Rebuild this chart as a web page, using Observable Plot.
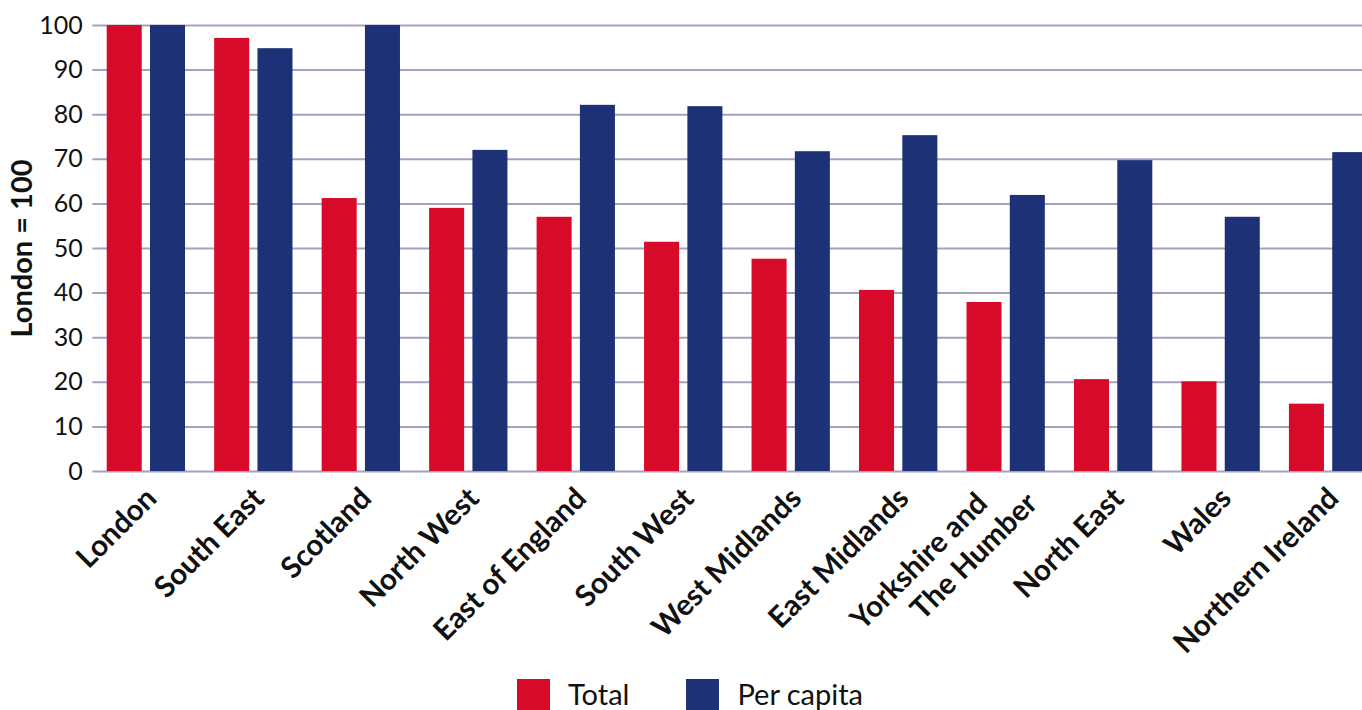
<!DOCTYPE html>
<html>
<head>
<meta charset="utf-8">
<script src="https://cdn.jsdelivr.net/npm/d3@7"></script>
<script src="https://cdn.jsdelivr.net/npm/@observablehq/plot@0.6"></script>
<style>
  html, body { margin: 0; padding: 0; overflow: hidden; background: #fff; }
  #chart svg { display: block; max-width: none !important; }
  .legend { display: flex; align-items: flex-start; padding-left: 517px; padding-top: 7px; font-family: Lato, sans-serif; font-size: 29px; color: #111; }
  .legend .item { display: flex; align-items: flex-start; }
  .legend .sw { width: 33px; height: 33px; margin-right: 18px; }
  .legend .lab { line-height: 29px; margin-top: 0px; }
</style>
</head>
<body>
<div id="chart"></div>
<div class="legend">
  <div class="item" style="margin-right:57px"><div class="sw" style="background:#d80a29"></div><div class="lab">Total</div></div>
  <div class="item"><div class="sw" style="background:#1d3176"></div><div class="lab">Per capita</div></div>
</div>
<script>
const regions = ["London", "South East", "Scotland", "North West", "East of England", "South West", "West Midlands", "East Midlands", "Yorkshire and\nThe Humber", "North East", "Wales", "Northern Ireland"];
const totalValues = [100, 97.1, 61.2, 59.0, 57.0, 51.4, 47.6, 40.6, 37.9, 20.6, 20.1, 15.1];
const perCapitaValues = [100, 94.8, 100, 72.0, 82.1, 81.8, 71.7, 75.3, 61.9, 69.7, 57.0, 71.5];
const yTicks = [0, 10, 20, 30, 40, 50, 60, 70, 80, 90, 100];
const seriesNames = ["Total", "Per capita"];
const seriesColors = ["#d80a29", "#1d3176"];

const rows = regions.map((r, i) => ({region: r, total: totalValues[i], perCapita: perCapitaValues[i]}));
const singleLine = regions.filter(r => !r.includes("\n"));
const multiLine = regions.filter(r => r.includes("\n"));

const labelStyle = {frameAnchor: "bottom", rotate: -45, textAnchor: "end", lineAnchor: "middle", fontWeight: "bold", fontSize: 29.5, fill: "#111"};

const chart = Plot.plot({
  width: 1382,
  height: 672,
  marginLeft: 92.3,
  marginRight: 0,
  marginTop: 25,
  marginBottom: 201,
  style: {fontFamily: "Lato, sans-serif", color: "#111", background: "#fff", maxWidth: "none"},
  x: {type: "band", domain: regions, paddingInner: 0, paddingOuter: 0, round: false, axis: null},
  y: {domain: [0, 100], axis: null},
  marks: [
    Plot.ruleY(yTicks, {stroke: "#a6a2be", strokeWidth: 2}),
    Plot.barY(rows, {x: "region", y: "total", fill: seriesColors[0], insetLeft: 14.4, insetRight: 58.05}),
    Plot.barY(rows, {x: "region", y: "perCapita", fill: seriesColors[1], insetLeft: 57.7, insetRight: 14.75}),
    Plot.axisY({ticks: yTicks, tickSize: 0, tickPadding: 10, fontSize: 25, label: null, textStroke: "none"}),
    Plot.text(["London = 100"], {text: d => d, frameAnchor: "left", textAnchor: "middle", lineAnchor: "middle", rotate: -90, dx: -70, fontWeight: "bold", fontSize: 29, fill: "#111"}),
    Plot.text(singleLine, {x: d => d, text: d => d, dx: 5, dy: 22, ...labelStyle}),
    Plot.text(multiLine, {x: d => d, text: d => d.split("\n")[0], dx: -24, dy: 27, ...labelStyle}),
    Plot.text(multiLine, {x: d => d, text: d => d.split("\n")[1], dx: 26, dy: 27, ...labelStyle})
  ]
});
document.getElementById("chart").appendChild(chart);
</script>
</body>
</html>
